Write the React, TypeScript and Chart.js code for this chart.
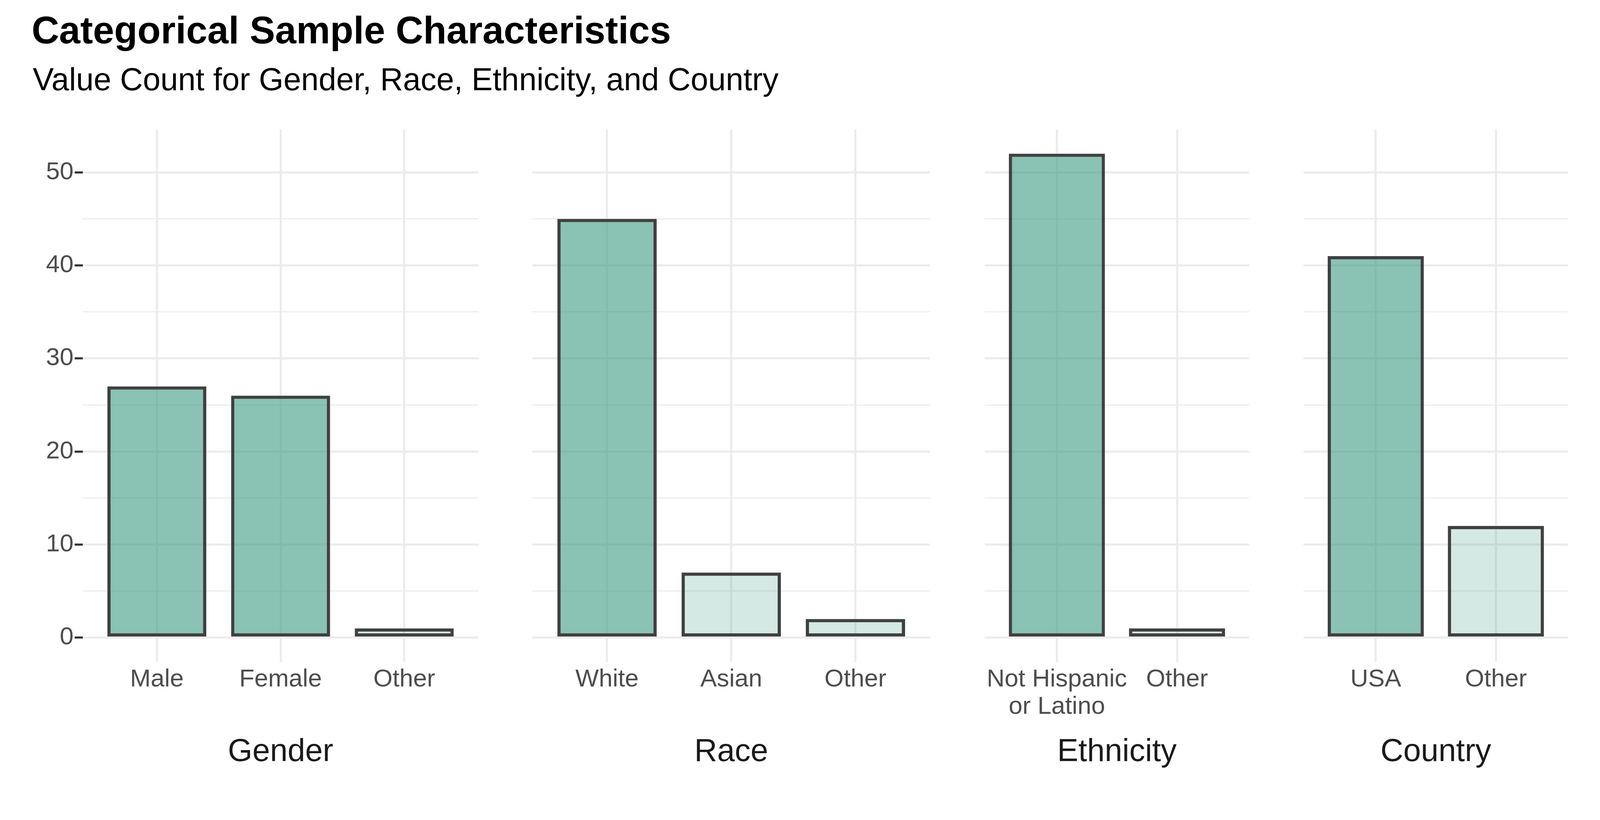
import React, { useEffect, useRef } from "react";
import { Chart, registerables } from "chart.js";

Chart.register(...registerables);

const TITLE = "Categorical Sample Characteristics";
const SUBTITLE = "Value Count for Gender, Race, Ethnicity, and Country";

const FACETS = ["Gender", "Race", "Ethnicity", "Country"];

const GENDER_CATS: (string | string[])[] = ["Male", "Female", "Other"];
const GENDER_VALUES = [27, 26, 1];
const GENDER_GROUP = ["major", "major", "minor"];

const RACE_CATS: (string | string[])[] = ["White", "Asian", "Other"];
const RACE_VALUES = [45, 7, 2];
const RACE_GROUP = ["major", "minor", "minor"];

const ETHNICITY_CATS: (string | string[])[] = [["Not Hispanic", "or Latino"], "Other"];
const ETHNICITY_VALUES = [52, 1];
const ETHNICITY_GROUP = ["major", "minor"];

const COUNTRY_CATS: (string | string[])[] = ["USA", "Other"];
const COUNTRY_VALUES = [41, 12];
const COUNTRY_GROUP = ["major", "minor"];

const Y_MAJOR_TICKS = [0, 10, 20, 30, 40, 50];
const Y_MINOR_TICKS = [5, 15, 25, 35, 45];
const Y_MIN = -2.6;
const Y_MAX = 54.6;

const PANEL_CATS = [GENDER_CATS, RACE_CATS, ETHNICITY_CATS, COUNTRY_CATS];
const PANEL_VALUES = [GENDER_VALUES, RACE_VALUES, ETHNICITY_VALUES, COUNTRY_VALUES];
const PANEL_GROUPS = [GENDER_GROUP, RACE_GROUP, ETHNICITY_GROUP, COUNTRY_GROUP];

// layout in reference pixels (4200 x 2100 design), scaled to the real viewport
const W = 4200;
const H = 2100;
const PANEL_LEFT = [217, 1398, 2585, 3422];
const PANEL_RIGHT = [1256, 2441, 3279, 4116];
const PANEL_TOP = 340;
const X_AXIS_HEIGHT = 362;
const Y_AXIS_WIDTH = 131;

const FONT = "'Liberation Sans', Arial, Helvetica, sans-serif";
const GRID = "#ebebeb";
const DARK = "rgba(60,153,130,0.6)";
const LIGHT = "rgba(60,153,130,0.22)";
const EDGE = "#404040";

function isMajorY(v: number | undefined) {
  return v !== undefined && Y_MAJOR_TICKS.includes(v);
}

function buildConfig(idx: number, s: number): any {
  const cats = PANEL_CATS[idx];
  const values = PANEL_VALUES[idx];
  const groups = PANEL_GROUPS[idx];
  const yAll = [...Y_MAJOR_TICKS, ...Y_MINOR_TICKS].sort((a, b) => a - b);
  return {
    type: "bar",
    data: {
      datasets: [
        {
          data: cats.map((_, i) => ({ x: i, y: values[i] })),
          backgroundColor: groups.map((g) => (g === "major" ? DARK : LIGHT)),
          borderColor: EDGE,
          borderWidth: 8.5 * s,
          borderSkipped: false,
          barPercentage: 0.8,
          categoryPercentage: 1,
        },
      ],
    },
    options: {
      responsive: false,
      animation: false,
      devicePixelRatio: window.devicePixelRatio || 1,
      layout: {
        padding: {
          left: (PANEL_LEFT[idx] - Y_AXIS_WIDTH) * s,
          right: (W - PANEL_RIGHT[idx]) * s,
          top: PANEL_TOP * s,
          bottom: 0,
        },
      },
      plugins: {
        legend: { display: false },
        tooltip: { enabled: false },
        title: { display: false },
      },
      scales: {
        x: {
          type: "linear",
          bounds: "data",
          offset: false,
          min: -0.6,
          max: cats.length - 0.4,
          afterBuildTicks: (sc: any) => {
            sc.ticks = cats.map((_, i) => ({ value: i }));
          },
          afterFit: (sc: any) => {
            sc.height = X_AXIS_HEIGHT * s;
          },
          grid: { color: GRID, lineWidth: 5.5 * s, drawTicks: false, offset: false },
          border: { display: false },
          ticks: {
            callback: (v: number) => cats[Math.round(v)],
            color: "#4d4d4d",
            font: { family: FONT, size: 65 * s, lineHeight: 72 / 65 },
            padding: 11 * s,
            autoSkip: false,
            maxRotation: 0,
            minRotation: 0,
          },
          title: {
            display: true,
            text: FACETS[idx],
            color: "#1a1a1a",
            font: { family: FONT, size: 83 * s, lineHeight: 1.2 },
            padding: { top: 0, bottom: 75 * s },
          },
        },
        y: {
          type: "linear",
          bounds: "data",
          min: Y_MIN,
          max: Y_MAX,
          afterBuildTicks: (sc: any) => {
            sc.ticks = yAll.map((v) => ({ value: v }));
          },
          afterFit: (sc: any) => {
            sc.width = Y_AXIS_WIDTH * s;
          },
          grid: {
            color: GRID,
            lineWidth: (c: any) => (isMajorY(c.tick?.value) ? 5.5 * s : 2.8 * s),
            drawTicks: idx === 0,
            tickLength: 21 * s,
            tickWidth: 5.5 * s,
            tickColor: (c: any) => (isMajorY(c.tick?.value) ? "#333333" : "rgba(0,0,0,0)"),
          },
          border: { display: false },
          ticks: {
            display: idx === 0,
            callback: (v: number) => (isMajorY(v) ? String(v) : ""),
            color: "#4d4d4d",
            font: { family: FONT, size: 65 * s },
            padding: 3 * s,
          },
        },
      },
    },
  };
}

export default function App() {
  const refs = useRef<(HTMLCanvasElement | null)[]>([]);
  const s = typeof window !== "undefined" && window.innerWidth ? window.innerWidth / W : 1;

  useEffect(() => {
    const charts = FACETS.map(
      (_, i) => new Chart(refs.current[i] as HTMLCanvasElement, buildConfig(i, s))
    );
    return () => charts.forEach((c) => c.destroy());
  }, [s]);

  return (
    <div
      style={{
        position: "absolute",
        left: 0,
        top: 0,
        width: W * s,
        height: H * s,
        background: "#ffffff",
        overflow: "hidden",
      }}
    >
      <div
        style={{
          position: "absolute",
          left: 83 * s,
          top: 30 * s,
          fontFamily: FONT,
          fontWeight: "bold",
          fontSize: 100 * s,
          lineHeight: `${100 * s}px`,
          color: "#000",
          whiteSpace: "nowrap",
        }}
      >
        {TITLE}
      </div>
      <div
        style={{
          position: "absolute",
          left: 86 * s,
          top: 167 * s,
          fontFamily: FONT,
          fontSize: 83 * s,
          lineHeight: `${83 * s}px`,
          color: "#000",
          whiteSpace: "nowrap",
        }}
      >
        {SUBTITLE}
      </div>
      {FACETS.map((f, i) => (
        <canvas
          key={f}
          ref={(el) => {
            refs.current[i] = el;
          }}
          width={Math.round(W * s)}
          height={Math.round(H * s)}
          style={{
            position: "absolute",
            left: 0,
            top: 0,
            width: Math.round(W * s),
            height: Math.round(H * s),
          }}
        />
      ))}
    </div>
  );
}
